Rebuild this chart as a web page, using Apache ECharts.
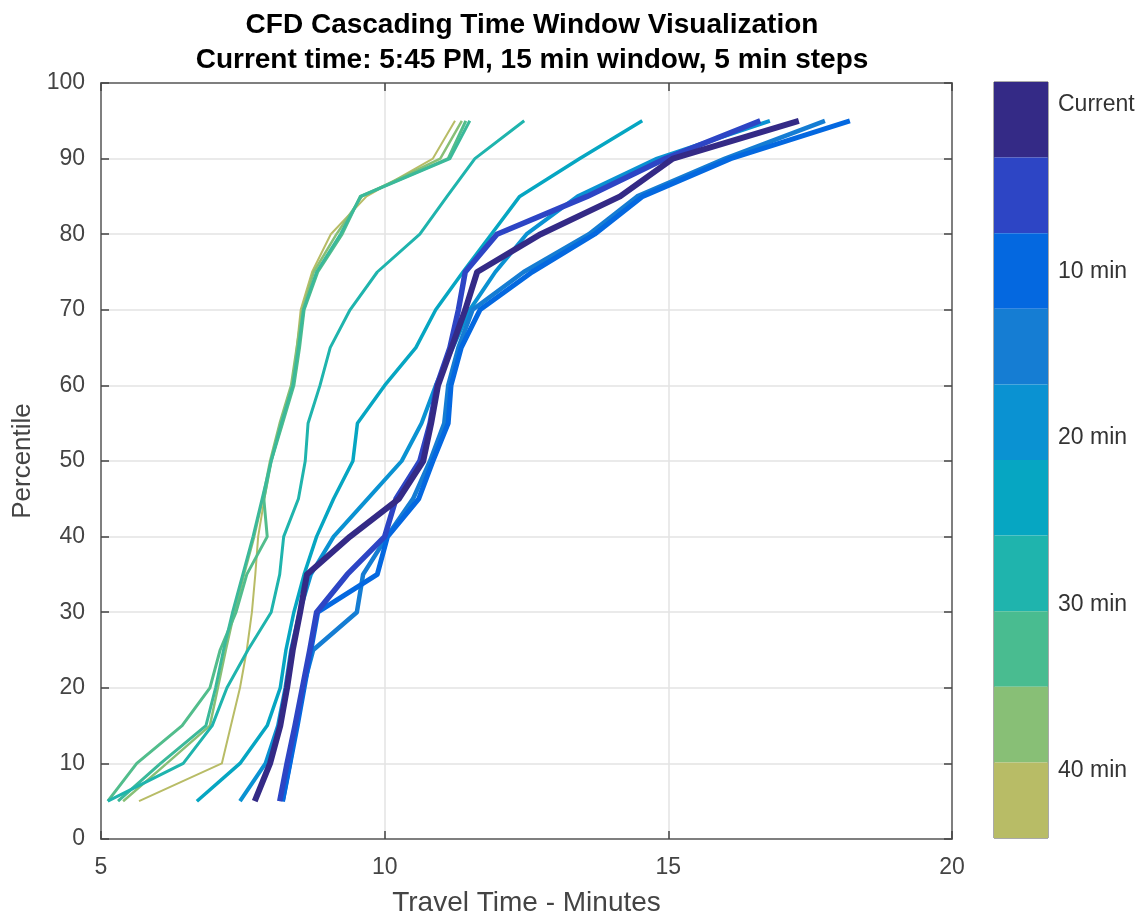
<!DOCTYPE html>
<html>
<head>
<meta charset="utf-8">
<title>CFD Cascading Time Window Visualization</title>
<script src="https://cdn.jsdelivr.net/npm/echarts@6/dist/echarts.min.js"></script>
<style>
  html, body { margin: 0; padding: 0; background: #fff; }
  #chart { width: 1143px; height: 917px; }
</style>
</head>
<body>
<div id="chart"></div>
<script>
// percentiles shared by every curve
const percentiles = [5, 10, 15, 20, 25, 30, 35, 40, 45, 50, 55, 60, 65, 70, 75, 80, 85, 90, 95];

// travel time (minutes) per window, newest first
const tCurrent = [7.71, 7.98, 8.16, 8.28, 8.38, 8.51, 8.63, 9.39, 10.25, 10.68, 10.82, 10.94, 11.18, 11.42, 11.63, 12.75, 14.15, 15.08, 17.3];
const tWin1 = [8.15, 8.28, 8.42, 8.55, 8.68, 8.8, 9.34, 10.0, 10.2, 10.62, 10.8, 10.92, 11.15, 11.3, 11.42, 11.98, 13.57, 14.95, 16.62];
const tWin2 = [8.2, 8.33, 8.46, 8.58, 8.7, 8.82, 9.87, 10.05, 10.6, 10.85, 11.12, 11.17, 11.35, 11.68, 12.6, 13.7, 14.55, 16.1, 18.2];
const tWin3 = [8.2, 8.33, 8.44, 8.56, 8.74, 9.51, 9.62, 10.04, 10.5, 10.8, 11.05, 11.12, 11.3, 11.55, 12.45, 13.6, 14.45, 16.0, 17.76];
const tWin4 = [7.45, 7.9, 8.12, 8.25, 8.35, 8.5, 8.7, 9.1, 9.7, 10.3, 10.65, 10.9, 11.2, 11.5, 11.95, 12.5, 13.4, 14.8, 16.79];
const tWin5 = [6.69, 7.45, 7.93, 8.16, 8.26, 8.4, 8.58, 8.8, 9.1, 9.44, 9.52, 10.0, 10.55, 10.9, 11.38, 11.88, 12.38, 13.44, 14.54];
const tWin6 = [5.12, 6.45, 6.96, 7.22, 7.59, 8.0, 8.15, 8.22, 8.48, 8.6, 8.65, 8.86, 9.04, 9.39, 9.87, 10.62, 11.1, 11.59, 12.46];
const tWin7 = [5.3, 6.05, 6.85, 7.02, 7.16, 7.32, 7.5, 7.68, 7.84, 8.0, 8.18, 8.38, 8.48, 8.57, 8.8, 9.22, 9.58, 11.15, 11.5];
const tWin8 = [5.12, 5.63, 6.43, 6.92, 7.1, 7.38, 7.57, 7.93, 7.87, 8.0, 8.2, 8.4, 8.5, 8.58, 8.82, 9.25, 9.57, 11.12, 11.43];
const tWin9 = [5.39, 6.16, 6.92, 7.06, 7.2, 7.35, 7.52, 7.7, 7.85, 7.98, 8.15, 8.35, 8.45, 8.55, 8.75, 9.15, 9.6, 10.98, 11.36];
const tWin10 = [5.67, 7.13, 7.29, 7.45, 7.57, 7.66, 7.72, 7.77, 7.88, 8.0, 8.2, 8.38, 8.45, 8.52, 8.72, 9.05, 9.68, 10.85, 11.24];

const windows = [tCurrent, tWin1, tWin2, tWin3, tWin4, tWin5, tWin6, tWin7, tWin8, tWin9, tWin10];
const lineColors = ['#342a86', '#2d45c5', '#0468e0', '#157dd3', '#0a92d2', '#06a6c2', '#1fb4ad', '#3bb99a', '#52bd8c', '#88bf76', '#b8bc66'];
const lineWidths = [6, 5.5, 5, 4.5, 4, 3.5, 3, 3, 3, 2.5, 2];

// colorbar
const cbColors = ['#342a86', '#2d45c5', '#0468e0', '#157dd3', '#0a92d2', '#06a6c2', '#1fb4ad', '#49bc90', '#88bf76', '#b8bc66'];
const cbTickValues = [0, 10, 20, 30, 40];
const cbTickLabels = ['Current', '10 min', '20 min', '30 min', '40 min'];

const chart = echarts.init(document.getElementById('chart'));

const axisGray = '#7f7f7f';
const font = 'Liberation Sans, Arial, sans-serif';

let series = [];
// oldest first so the current window is drawn on top
for (let i = windows.length - 1; i >= 0; i--) {
    series.push({
        type: 'line',
        xAxisIndex: 0,
        yAxisIndex: 0,
        data: windows[i].map((t, k) => [t, percentiles[k]]),
        symbol: 'none',
        silent: true,
        lineStyle: { color: lineColors[i], width: lineWidths[i], join: 'round' },
        z: 3
    });
}
// colorbar blocks
series.push({
    type: 'bar',
    xAxisIndex: 2,
    yAxisIndex: 2,
    data: cbColors.map(c => ({ value: 1, itemStyle: { color: c } })),
    barWidth: '100%',
    barCategoryGap: '0%',
    silent: true
});

const option = {
    backgroundColor: '#fff',
    animation: false,
    title: [{
        text: 'CFD Cascading Time Window Visualization',
        left: 527, top: 6, textAlign: 'center',
        textStyle: { fontFamily: font, fontSize: 28, fontWeight: 'bold', color: '#000' }
    }, {
        text: 'Current time: 5:45 PM, 15 min window, 5 min steps',
        left: 527, top: 41, textAlign: 'center',
        textStyle: { fontFamily: font, fontSize: 28, fontWeight: 'bold', color: '#000' }
    }],
    grid: [
        { left: 101, top: 83, width: 851, height: 756, containLabel: false, outerBoundsMode: 'none' },
        { left: 994, top: 82, width: 54, height: 756, show: true, borderColor: '#555', borderWidth: 1, containLabel: false, outerBoundsMode: 'none' }
    ],
    xAxis: [{
        type: 'value', gridIndex: 0, min: 5, max: 20, interval: 5,
        name: 'Travel Time - Minutes', nameLocation: 'middle', nameGap: 50,
        nameTextStyle: { fontFamily: font, fontSize: 28, color: '#444' },
        axisLine: { show: true, onZero: false, lineStyle: { color: axisGray, width: 2 } },
        axisTick: { show: true, inside: true, length: 8, lineStyle: { color: '#444', width: 1.5 } },
        axisLabel: { fontFamily: font, fontSize: 23, color: '#444', margin: 17 },
        splitLine: { show: true, lineStyle: { color: '#e3e3e3', width: 1.5 } }
    }, {
        type: 'value', gridIndex: 0, min: 5, max: 20, interval: 5, position: 'top',
        axisLine: { show: true, onZero: false, lineStyle: { color: axisGray, width: 2 } },
        axisTick: { show: true, inside: true, length: 8, lineStyle: { color: '#444', width: 1.5 } },
        axisLabel: { show: false },
        splitLine: { show: false }
    }, {
        type: 'value', gridIndex: 1, min: 0, max: 1, show: false
    }],
    yAxis: [{
        type: 'value', gridIndex: 0, min: 0, max: 100, interval: 10,
        name: 'Percentile', nameLocation: 'middle', nameGap: 64,
        nameTextStyle: { fontFamily: font, fontSize: 26, color: '#444' },
        axisLine: { show: true, onZero: false, lineStyle: { color: axisGray, width: 2 } },
        axisTick: { show: true, inside: true, length: 8, lineStyle: { color: '#444', width: 1.5 } },
        axisLabel: { fontFamily: font, fontSize: 23, color: '#444', margin: 16 },
        splitLine: { show: true, lineStyle: { color: '#e3e3e3', width: 1.5 } }
    }, {
        type: 'value', gridIndex: 0, min: 0, max: 100, interval: 10, position: 'right',
        axisLine: { show: true, onZero: false, lineStyle: { color: axisGray, width: 2 } },
        axisTick: { show: true, inside: true, length: 8, lineStyle: { color: '#444', width: 1.5 } },
        axisLabel: { show: false },
        splitLine: { show: false }
    }, {
        type: 'category', gridIndex: 1, inverse: true,
        data: cbColors.map((c, i) => i),
        show: false
    }, {
        type: 'value', gridIndex: 1, position: 'right', inverse: true,
        min: -1.38, max: 44.02,
        axisLine: { show: false },
        axisTick: { show: true, inside: true, length: 6, customValues: cbTickValues, lineStyle: { color: '#333', width: 1.5 } },
        axisLabel: {
            show: true, customValues: cbTickValues, margin: 10,
            fontFamily: font, fontSize: 23, color: '#333',
            formatter: v => cbTickLabels[cbTickValues.indexOf(v)]
        },
        splitLine: { show: false }
    }],
    series: series
};

chart.setOption(option);
</script>
</body>
</html>
